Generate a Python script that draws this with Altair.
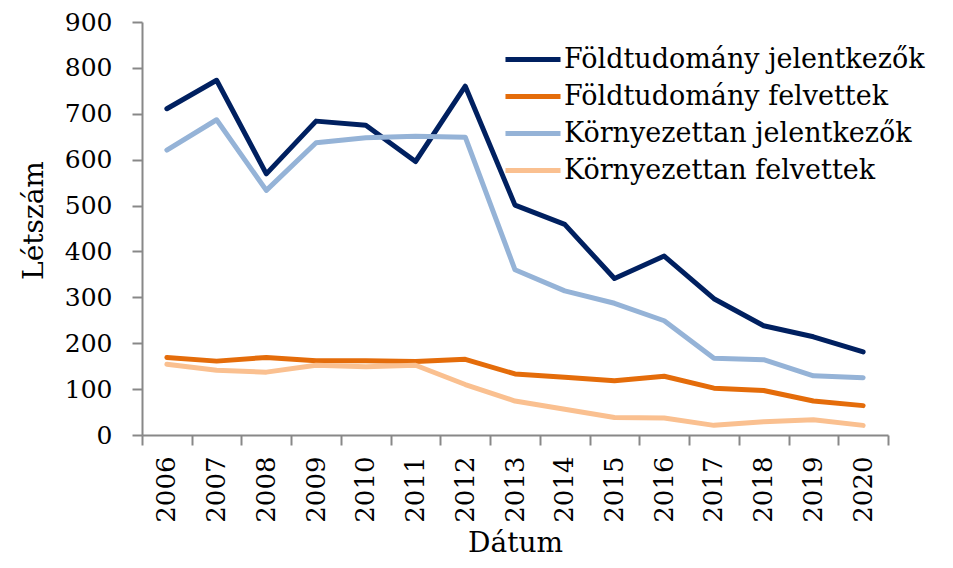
import altair as alt
import pandas as pd

years = ["2006", "2007", "2008", "2009", "2010", "2011", "2012", "2013",
         "2014", "2015", "2016", "2017", "2018", "2019", "2020"]
series = ["Földtudomány jelentkezők", "Földtudomány felvettek",
          "Környezettan jelentkezők", "Környezettan felvettek"]
colors = ["#002060", "#E46C0A", "#95B3D7", "#FAC090"]

fold_jel = [711, 773, 569, 684, 675, 596, 760, 501, 459, 341, 390, 297, 238, 214, 181]
fold_felv = [169, 161, 169, 162, 162, 160, 165, 133, 126, 118, 128, 102, 97, 74, 64]
korny_jel = [621, 687, 533, 637, 648, 651, 649, 360, 314, 287, 249, 167, 164, 129, 125]
korny_felv = [154, 141, 137, 152, 149, 152, 110, 74, 56, 38, 37, 21, 29, 33, 21]

rows = []
for s, vals in zip(series, [fold_jel, fold_felv, korny_jel, korny_felv]):
    for y, v in zip(years, vals):
        rows.append({"Dátum": y, "Létszám": v, "sorozat": s})
df = pd.DataFrame(rows)

FONT = "DejaVu Serif"
GRAY = "#888888"

chart = alt.Chart(df).mark_line(
    strokeWidth=5, strokeCap="round", strokeJoin="round"
).encode(
    x=alt.X(
        "Dátum:O",
        bandPosition=0.5,
        scale=alt.Scale(type="band", paddingInner=0, paddingOuter=0),
        axis=alt.Axis(
            title="Dátum", labelAngle=-90, tickBand="extent", tickSize=10,
            labelPadding=11, labelFont=FONT, labelFontSize=26, labelColor="black",
            domainColor=GRAY, domainWidth=2, tickColor=GRAY, tickWidth=2,
            titleFont=FONT, titleFontSize=28, titleFontWeight="normal",
            titleColor="black", titleBaseline="alphabetic", titleY=116,
        ),
    ),
    y=alt.Y(
        "Létszám:Q",
        scale=alt.Scale(domain=[0, 900], nice=False),
        axis=alt.Axis(
            title="Létszám", values=list(range(0, 901, 100)), grid=False,
            tickSize=10, labelPadding=20, labelFont=FONT, labelFontSize=25,
            labelColor="black", domainColor=GRAY, domainWidth=2,
            tickColor=GRAY, tickWidth=2,
            titleFont=FONT, titleFontSize=28, titleFontWeight="normal",
            titleColor="black", titleBaseline="alphabetic", titleX=-100,
            titleY=198,
        ),
    ),
    color=alt.Color(
        "sorozat:N", sort=series,
        scale=alt.Scale(domain=series, range=colors),
        legend=alt.Legend(
            title=None, orient="none", legendX=367, legendY=13.5,
            symbolType="M-1.28,0H1.28", symbolSize=1849, symbolStrokeWidth=5,
            labelFont=FONT, labelFontSize=27, labelColor="black",
            labelOffset=7, rowPadding=0, padding=0, labelLimit=600,
        ),
    ),
).properties(
    width=746, height=413,
    autosize=alt.AutoSizeParams(type="none"),
    padding={"left": 134, "top": 14, "right": 50, "bottom": 125},
).configure_view(stroke=None)

chart.save("out.html", embed_options={"renderer": "svg", "actions": False})
